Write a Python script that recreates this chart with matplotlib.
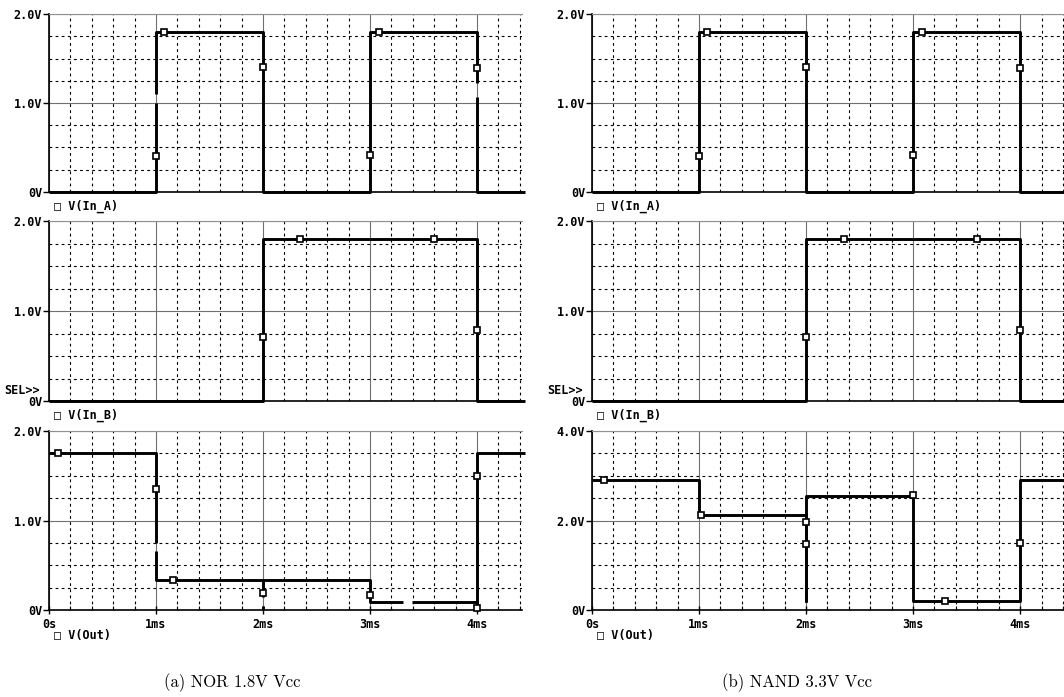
import numpy as np
import matplotlib.pyplot as plt
from matplotlib.ticker import FixedLocator, MultipleLocator

nan = np.nan

# time axis in ms, voltages in V; nan marks the breaks seen in the traces
in_a_t = [0, 1, 1, nan, 1, 1, 2, 2, 3, 3, 4, 4, nan, 4, 4, 4.45]
in_a_v_nor = [0, 0, 1.0, nan, 1.1, 1.8, 1.8, 0, 0, 1.8, 1.8, 1.22, nan, 1.07, 0, 0]
in_a_t_nand = [0, 1, 1, 2, 2, 3, 3, 4, 4, 4.45]
in_a_v_nand = [0, 0, 1.8, 1.8, 0, 0, 1.8, 1.8, 0, 0]
in_a_mk_t = [1.07, 1.0, 2.0, 3.0, 3.08, 4.0]
in_a_mk_v = [1.8, 0.4, 1.4, 0.42, 1.8, 1.39]

in_b_t = [0, 2, 2, 4, 4, 4.45]
in_b_v = [0, 0, 1.8, 1.8, 0, 0]
in_b_mk_t = [2.0, 2.35, 3.6, 4.0]
in_b_mk_v = [0.71, 1.8, 1.8, 0.79]

out_nor_t = [0, 1, 1, nan, 1, 1, 2, 3, 3, 3.31, nan, 3.39, 4, 4, 4, 4.45,
             nan, 2, 2, nan, 2, 2]
out_nor_v = [1.75, 1.75, 0.75, nan, 0.66, 0.33, 0.33, 0.33, 0.09, 0.09, nan, 0.09, 0.09, 0, 1.75, 1.75,
             nan, 0.33, 0.15, nan, 0.045, 0]
out_nor_mk_t = [0.08, 1.0, 1.16, 2.0, 3.0, 4.0, 4.0]
out_nor_mk_v = [1.75, 1.35, 0.33, 0.19, 0.17, 0.02, 1.5]

out_nand_t = [0, 1, 1, 2, 2, 2, 3, 3, 4, 4, 4.45]
out_nand_v = [2.9, 2.9, 2.12, 2.12, 0.2, 2.55, 2.55, 0.2, 0.2, 2.9, 2.9]
out_nand_mk_t = [0.11, 1.02, 2.0, 2.0, 3.0, 3.3, 4.0]
out_nand_mk_v = [2.9, 2.13, 1.97, 1.48, 2.57, 0.2, 1.5]

x_ticks = [0, 1, 2, 3, 4]
x_labels = ["0s", "1ms", "2ms", "3ms", "4ms"]
captions = ["(a) NOR 1.8V Vcc", "(b) NAND 3.3V Vcc"]

W, H = 1064, 697
fig = plt.figure(figsize=(W / 100, H / 100), dpi=100)

mono = dict(family="DejaVu Sans Mono", weight="bold", size=8.5)


def make_axes(x0, x1, ytop, ybot, xmax):
    ax = fig.add_axes([x0 / W, 1 - ybot / H, (x1 - x0) / W, (ybot - ytop) / H])
    ax.set_xlim(0, xmax)
    return ax


def style(ax, ymax, ylabels, ystep, xlabels):
    ax.set_ylim(0, ymax)
    ax.xaxis.set_major_locator(FixedLocator(x_ticks))
    ax.xaxis.set_minor_locator(MultipleLocator(0.2))
    ax.yaxis.set_major_locator(FixedLocator([0, ymax / 2, ymax]))
    ax.yaxis.set_minor_locator(MultipleLocator(ystep))
    ax.set_yticklabels(ylabels, fontdict=mono)
    ax.grid(which="major", color="#707070", lw=0.8, ls="-")
    ax.grid(which="minor", color="black", lw=0.8, ls=(0, (2.5, 3)))
    ax.set_axisbelow(True)
    ax.spines["right"].set_visible(False)
    ax.spines["top"].set_color("#909090")
    ax.spines["top"].set_linewidth(0.8)
    ax.spines["left"].set_linewidth(1.2)
    ax.spines["bottom"].set_linewidth(1.2)
    ax.tick_params(axis="y", which="major", direction="out", length=4, width=1, pad=1)
    ax.tick_params(axis="y", which="minor", length=0)
    if xlabels:
        ax.set_xticklabels(x_labels, fontdict=mono)
        ax.tick_params(axis="x", which="major", direction="inout", length=6, width=1, pad=3)
        ax.tick_params(axis="x", which="minor", direction="in", length=3, width=0.8)
    else:
        ax.set_xticklabels([])
        ax.tick_params(axis="x", which="both", length=0)


def trace(ax, t, v, mt, mv):
    ax.plot(t, v, color="black", lw=2.1, solid_capstyle="butt", clip_on=False)
    ax.plot(mt, mv, ls="none", marker="s", ms=5, mfc="white", mec="black", mew=1.2,
            clip_on=False, zorder=5)


def label(ax, text, dy):
    ax.annotate(text, xy=(0, 0), xycoords="axes fraction", xytext=(5, dy),
                textcoords="offset pixels", ha="left", va="center", **mono)


def sel(ax):
    ax.annotate("SEL>>", xy=(0, 0), xycoords="axes fraction", xytext=(-9, 11),
                textcoords="offset pixels", ha="right", va="center", **mono)


rows = [(14, 192), (221, 401), (431, 610)]
cols = [(49, 522, 4.42), (592, 1064, 4.41)]

# left: NOR
x0, x1, xm = cols[0]
a1 = make_axes(x0, x1, rows[0][0], rows[0][1], xm)
style(a1, 2.0, ["0V", "1.0V", "2.0V"], 0.25, False)
trace(a1, in_a_t, in_a_v_nor, in_a_mk_t, in_a_mk_v)
label(a1, "\u25a1 V(In_A)", -14)

a2 = make_axes(x0, x1, rows[1][0], rows[1][1], xm)
style(a2, 2.0, ["0V", "1.0V", "2.0V"], 0.25, False)
trace(a2, in_b_t, in_b_v, in_b_mk_t, in_b_mk_v)
label(a2, "\u25a1 V(In_B)", -14)
sel(a2)

a3 = make_axes(x0, x1, rows[2][0], rows[2][1], xm)
style(a3, 2.0, ["0V", "1.0V", "2.0V"], 0.25, True)
trace(a3, out_nor_t, out_nor_v, out_nor_mk_t, out_nor_mk_v)
label(a3, "\u25a1 V(Out)", -25)

# right: NAND
x0, x1, xm = cols[1]
b1 = make_axes(x0, x1, rows[0][0], rows[0][1], xm)
style(b1, 2.0, ["0V", "1.0V", "2.0V"], 0.25, False)
trace(b1, in_a_t_nand, in_a_v_nand, in_a_mk_t, in_a_mk_v)
label(b1, "\u25a1 V(In_A)", -14)

b2 = make_axes(x0, x1, rows[1][0], rows[1][1], xm)
style(b2, 2.0, ["0V", "1.0V", "2.0V"], 0.25, False)
trace(b2, in_b_t, in_b_v, in_b_mk_t, in_b_mk_v)
label(b2, "\u25a1 V(In_B)", -14)
sel(b2)

b3 = make_axes(x0, x1, rows[2][0], rows[2][1], xm)
style(b3, 4.0, ["0V", "2.0V", "4.0V"], 0.5, True)
trace(b3, out_nand_t, out_nand_v, out_nand_mk_t, out_nand_mk_v)
label(b3, "\u25a1 V(Out)", -25)

fig.text(232 / W, 1 - 683 / H, captions[0], ha="center", va="center",
         family="cmr10", size=12)
fig.text(797 / W, 1 - 683 / H, captions[1], ha="center", va="center",
         family="cmr10", size=12)

fig.savefig("out.png", dpi=100)
